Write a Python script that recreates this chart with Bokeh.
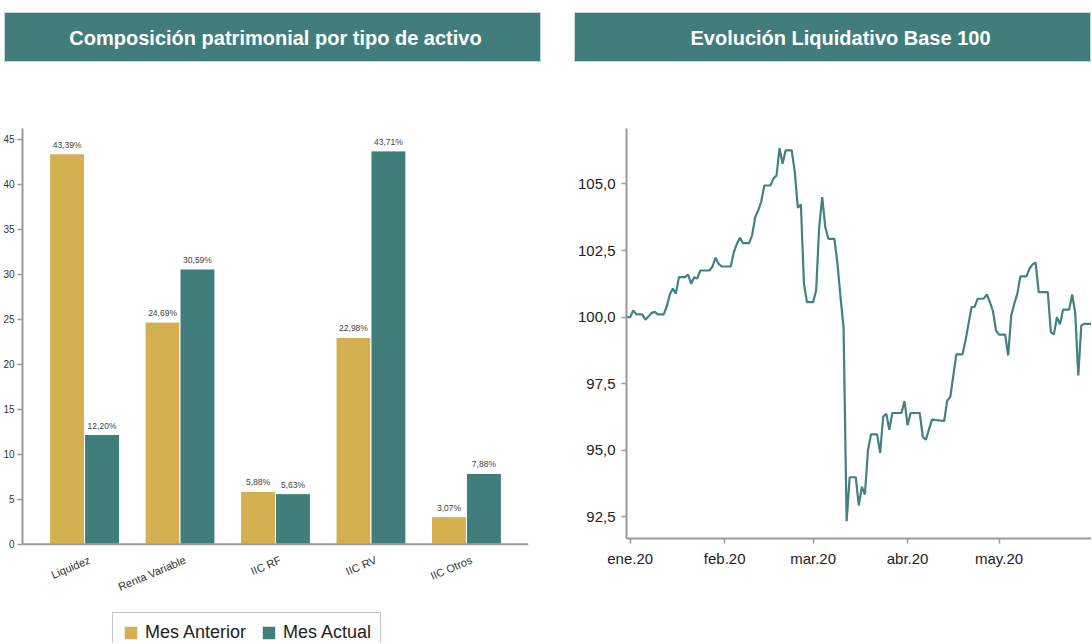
import pandas as pd
from bokeh.plotting import figure
from bokeh.models import (ColumnDataSource, FactorRange, Range1d, FixedTicker,
                          CustomJSTickFormatter, LabelSet, Label, Spacer, Span)
from bokeh.transform import dodge
from bokeh.layouts import column, row
from bokeh.embed import file_html
from bokeh.resources import INLINE
from bokeh.core.properties import value

# ---------------- data ----------------
categories = ["Liquidez", "Renta Variable", "IIC RF", "IIC RV", "IIC Otros"]
mes_anterior = [43.39, 24.69, 5.88, 22.98, 3.07]
mes_actual = [12.20, 30.59, 5.63, 43.71, 7.88]
bar_y_ticks = [0, 5, 10, 15, 20, 25, 30, 35, 40, 45]

dates = [
    "2019-12-31", "2020-01-01", "2020-01-02", "2020-01-03", "2020-01-05", "2020-01-06", "2020-01-08", "2020-01-09", "2020-01-10", "2020-01-12",
    "2020-01-13", "2020-01-14", "2020-01-15", "2020-01-16", "2020-01-17", "2020-01-19", "2020-01-20", "2020-01-21", "2020-01-22", "2020-01-23",
    "2020-01-24", "2020-01-27", "2020-01-28", "2020-01-29", "2020-01-30", "2020-01-31",
    "2020-02-03", "2020-02-04", "2020-02-05", "2020-02-06", "2020-02-07", "2020-02-09", "2020-02-10", "2020-02-11", "2020-02-12", "2020-02-13",
    "2020-02-14", "2020-02-16", "2020-02-17", "2020-02-18", "2020-02-19", "2020-02-20", "2020-02-21", "2020-02-23", "2020-02-24", "2020-02-25",
    "2020-02-26", "2020-02-27", "2020-02-28",
    "2020-03-01", "2020-03-02", "2020-03-03", "2020-03-04", "2020-03-05", "2020-03-06", "2020-03-08", "2020-03-09", "2020-03-10", "2020-03-11",
    "2020-03-12", "2020-03-13", "2020-03-15", "2020-03-16", "2020-03-17", "2020-03-18", "2020-03-19", "2020-03-20", "2020-03-22", "2020-03-23",
    "2020-03-24", "2020-03-25", "2020-03-26", "2020-03-27", "2020-03-30", "2020-03-31",
    "2020-04-01", "2020-04-02", "2020-04-05", "2020-04-06", "2020-04-07", "2020-04-09", "2020-04-13", "2020-04-14", "2020-04-15", "2020-04-16",
    "2020-04-17", "2020-04-19", "2020-04-20", "2020-04-21", "2020-04-22", "2020-04-23", "2020-04-24", "2020-04-26", "2020-04-27", "2020-04-28",
    "2020-04-29", "2020-04-30",
    "2020-05-01", "2020-05-03", "2020-05-04", "2020-05-05", "2020-05-06", "2020-05-07", "2020-05-08", "2020-05-10", "2020-05-11", "2020-05-12",
    "2020-05-13", "2020-05-14", "2020-05-17", "2020-05-18", "2020-05-19", "2020-05-20", "2020-05-21", "2020-05-22", "2020-05-24", "2020-05-25",
    "2020-05-26", "2020-05-27", "2020-05-28", "2020-05-29", "2020-05-31", "2020-06-01",
]
liquidativo = [
    100.0, 100.0, 100.25, 100.1, 100.1, 99.9, 100.15, 100.2, 100.1, 100.1,
    100.4, 100.85, 101.07, 100.88, 101.5, 101.5, 101.6, 101.25, 101.5, 101.45,
    101.75, 101.75, 101.9, 102.23, 102.0, 101.9,
    101.9, 102.44, 102.75, 102.98, 102.78, 102.78, 103.07, 103.75, 104.0, 104.34,
    104.94, 104.94, 105.2, 105.32, 106.34, 105.76, 106.26, 106.26, 105.44, 104.1,
    104.23, 101.25, 100.56,
    100.56, 101.0, 103.38, 104.5, 103.38, 102.94, 102.94, 102.0, 100.75, 99.6,
    92.34, 93.99, 93.99, 92.93, 93.64, 93.34, 95.0, 95.6, 95.6, 94.9,
    96.27, 96.37, 95.77, 96.4, 96.4, 96.85,
    95.94, 96.4, 96.4, 95.5, 95.4, 96.15, 96.1, 96.87, 97.0, 97.8,
    98.6, 98.6, 99.12, 99.75, 100.38, 100.38, 100.69, 100.69, 100.85, 100.56,
    100.23, 99.5,
    99.34, 99.34, 98.56, 100.06, 100.5, 100.88, 101.53, 101.53, 101.82, 101.98,
    102.05, 100.94, 100.94, 99.44, 99.35, 100.0, 99.73, 100.28, 100.28, 100.85,
    100.15, 97.81, 99.69, 99.75, 99.75, 99.75,
]
month_ticks = ["2020-01-01", "2020-02-01", "2020-03-01", "2020-04-01", "2020-05-01", "2020-06-01"]
line_y_ticks = [92.5, 95.0, 97.5, 100.0, 102.5, 105.0]

# ---------------- style ----------------
TEAL = "#417e7b"
GOLD = "#d5b050"
LINE = "#428280"
AXIS = "#9a9a9a"
FONT = "Liberation Sans"
FIG_H = 581


def banner(text, w, cx):
    b = figure(width=w, height=50, x_range=Range1d(0, w), y_range=Range1d(0, 50),
               output_backend="svg", toolbar_location=None, min_border=0,
               x_axis_type=None, y_axis_type=None,
               background_fill_color=TEAL, border_fill_color=TEAL,
               outline_line_color="#c9d6d5", outline_line_width=1)
    b.frame_align = False
    b.add_layout(Label(x=cx, y=25, text=text, text_align="center", text_baseline="middle",
                       text_color="white", text_font_style="bold", text_font_size="20px",
                       text_font=FONT))
    return b


b1 = banner("Composición patrimonial por tipo de activo", 537, 271)
b2 = banner("Evolución Liquidativo Base 100", 517, 266)

# ---------------- bar chart ----------------
src = ColumnDataSource(dict(
    cat=categories,
    ant=mes_anterior,
    act=mes_actual,
    zero=[0] * len(categories),
    ant_lbl=[f"{v:.2f}%".replace(".", ",") for v in mes_anterior],
    act_lbl=[f"{v:.2f}%".replace(".", ",") for v in mes_actual],
))

# frame runs from 66px below the figure top down to its bottom; 9 px per unit
y_bottom = -(FIG_H - 66 - 46.2 * 9) / 9.0
p1 = figure(x_range=FactorRange(*categories, range_padding=0.15, range_padding_units="absolute"),
            y_range=Range1d(y_bottom, 46.2), width=541, height=FIG_H,
            x_axis_location=None,
            output_backend="svg", toolbar_location=None,
            min_border_left=14, min_border_right=13, min_border_top=66, min_border_bottom=0,
            outline_line_color=None)
p1.frame_align = False
p1.xgrid.visible = False
p1.ygrid.visible = False

BW = 0.366
p1.vbar(x=dodge("cat", -BW / 2, range=p1.x_range), top="ant", width=BW, source=src,
        fill_color=GOLD, line_color="white", line_width=1, legend_label="Mes Anterior")
p1.vbar(x=dodge("cat", BW / 2, range=p1.x_range), top="act", width=BW, source=src,
        fill_color=TEAL, line_color="white", line_width=1, legend_label="Mes Actual")

for fld, lbl, off in (("ant", "ant_lbl", -BW / 2), ("act", "act_lbl", BW / 2)):
    p1.add_layout(LabelSet(x=dodge("cat", off, range=p1.x_range), y=fld, text=lbl, source=src,
                           y_offset=4, text_align="center", text_baseline="bottom",
                           text_font_size="8.5px", text_color="#444444",
                           text_font=value(FONT)))

# category axis: base line at 0 and slanted category names
p1.add_layout(Span(location=0, dimension="width", line_color=AXIS, line_width=2))
p1.add_layout(LabelSet(x="cat", y="zero", text="cat", source=src, angle=0.4,
                       x_offset=5, y_offset=-15, text_align="right", text_baseline="middle",
                       text_font_size="11px", text_color="#333333", text_font=value(FONT)))

p1.yaxis.ticker = FixedTicker(ticks=bar_y_ticks)
p1.yaxis.bounds = (0, 46.2)
p1.yaxis.axis_line_color = AXIS
p1.yaxis.axis_line_width = 2
p1.yaxis.major_tick_line_color = AXIS
p1.yaxis.major_tick_line_width = 1.5
p1.yaxis.major_tick_out = 5
p1.yaxis.major_tick_in = 0
p1.yaxis.minor_tick_line_color = None
p1.yaxis.major_label_text_font = FONT
p1.yaxis.major_label_text_font_size = "10px"
p1.yaxis.major_label_text_color = "#333333"
p1.yaxis.major_label_standoff = 3

lg = p1.legend[0]
lg.orientation = "horizontal"
lg.location = (90, -10)
lg.border_line_color = "#8a8a8a"
lg.border_line_width = 1.5
lg.padding = 9
lg.spacing = 14
lg.margin = 0
lg.glyph_width = 17
lg.glyph_height = 17
lg.label_height = 17
lg.label_standoff = 6
lg.label_text_font = FONT
lg.label_text_font_size = "18px"
lg.label_text_color = "#222222"
lg.background_fill_alpha = 1

# ---------------- line chart ----------------
lsrc = ColumnDataSource(dict(date=pd.to_datetime(dates), val=liquidativo))
x_start = pd.Timestamp("2019-12-30 19:00")
x_end = pd.Timestamp("2020-05-31 08:00")

p2 = figure(x_axis_type="datetime", x_range=Range1d(x_start, x_end),
            y_range=Range1d(91.69, 107.08), width=517, height=FIG_H,
            output_backend="svg", toolbar_location=None,
            min_border_left=50, min_border_right=0, min_border_top=66,
            min_border_bottom=FIG_H - 66 - 410,
            outline_line_color=None)
p2.frame_align = False
p2.xgrid.visible = False
p2.ygrid.visible = False
p2.line(x="date", y="val", source=lsrc, line_color=LINE, line_width=2.2)

p2.xaxis.ticker = FixedTicker(ticks=[pd.Timestamp(d).value / 1e6 for d in month_ticks])
p2.xaxis.formatter = CustomJSTickFormatter(code="""
const m = ["ene","feb","mar","abr","may","jun","jul","ago","sep","oct","nov","dic"];
const d = new Date(tick);
return m[d.getUTCMonth()] + "." + String(d.getUTCFullYear()).slice(2);
""")
p2.yaxis.ticker = FixedTicker(ticks=line_y_ticks)
p2.yaxis.formatter = CustomJSTickFormatter(code="return tick.toFixed(1).replace('.', ',');")

for ax in (p2.xaxis, p2.yaxis):
    ax.axis_line_color = AXIS
    ax.axis_line_width = 2
    ax.major_tick_line_color = AXIS
    ax.major_tick_line_width = 1.5
    ax.major_tick_out = 5
    ax.major_tick_in = 0
    ax.minor_tick_line_color = None
    ax.major_label_text_font = FONT
    ax.major_label_text_font_size = "15px"
    ax.major_label_text_color = "#222222"
p2.yaxis.major_label_standoff = 6
p2.xaxis.major_label_standoff = 6

layout = column(
    Spacer(width=1091, height=12),
    row(Spacer(width=4, height=50), b1, Spacer(width=33, height=50), b2),
    row(p1, Spacer(width=33, height=FIG_H), p2),
)

open("out.html", "w").write(file_html(layout, INLINE))
